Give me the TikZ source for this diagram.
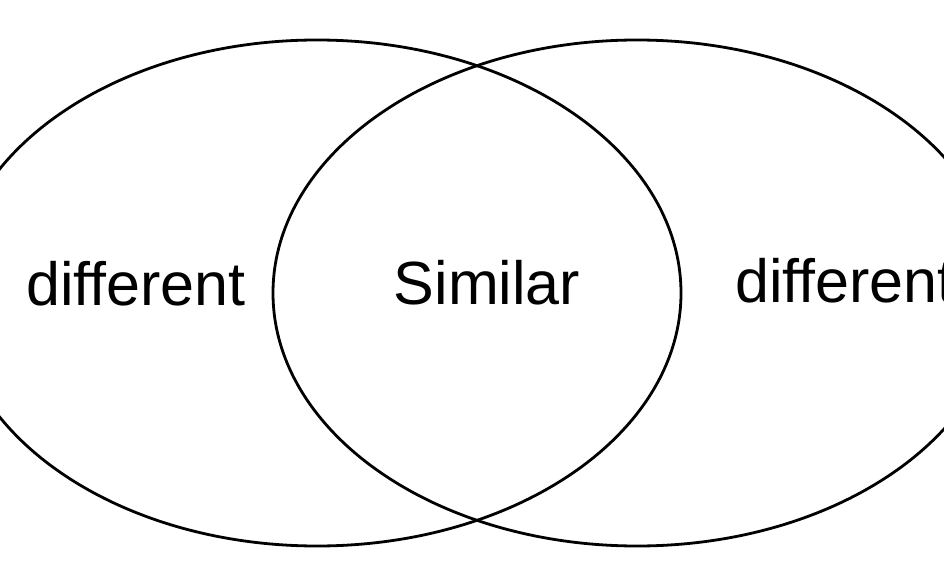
\documentclass[tikz,border=0pt]{standalone}
\usepackage{fontspec}
\setmainfont[Ligatures=NoCommon]{Liberation Sans}

\tikzset{ring/.style={line width=2.8pt,black},
         word/.style={inner sep=0pt,font=\fontsize{61}{70}\selectfont}}

\begin{document}
\begin{tikzpicture}[x=1pt,y=1pt]
                \useasboundingbox (0,0) rectangle (944,566);
                \clip (0,0) rectangle (944,566);
                \draw[ring] (317,273) ellipse (364 and 253);
                \draw[ring] (637,273) ellipse (364 and 253);
                \node[word,anchor=base] (diffleft) at (136,261) {different};
                \node[word,anchor=base] (similar) at (487,262) {Similar};
                \node[word,anchor=base west] (diffright) at (735,264) {different};
            \end{tikzpicture}
\end{document}
